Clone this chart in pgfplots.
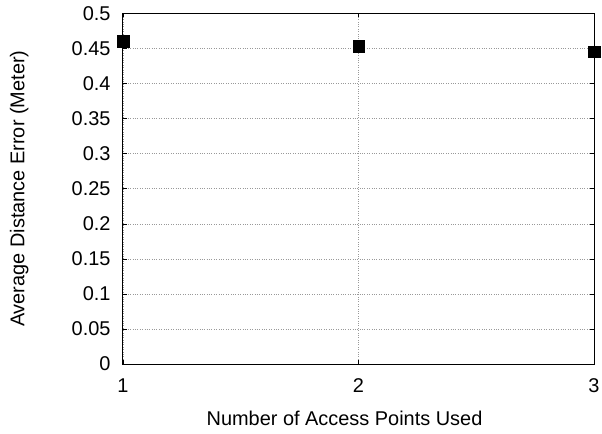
\documentclass[border=0pt]{standalone}
\usepackage{pgfplots}
\pgfplotsset{compat=1.18}
\usepackage{fontspec}
\setmainfont{Liberation Sans}
\begin{document}
\begin{tikzpicture}
\begin{axis}[
  scale only axis,
  width=471bp, height=350.5bp,
  xmin=1, xmax=3, ymin=0, ymax=0.5,
  xtick={1,2,3},
  ytick={0,0.05,0.1,0.15,0.2,0.25,0.3,0.35,0.4,0.45,0.5},
  /pgf/number format/assume math mode=true,
  /pgf/number format/fixed,
  /pgf/number format/precision=2,
  tick label style={font=\fontsize{20}{24}\selectfont},
  label style={font=\fontsize{20}{24}\selectfont},
  xlabel={Number of Access Points Used},
  ylabel={Average Distance Error (Meter)},
  xlabel style={at={(axis description cs:0.5,0)}, anchor=north, yshift=-44bp, xshift=-14bp},
  ylabel style={at={(axis description cs:0,0.5)}, anchor=south, yshift=91bp},
  yticklabel style={xshift=-9bp},
  xticklabel style={yshift=-11bp},
  tick align=inside,
  major tick length=4bp,
  tick style={black, line width=0.6pt},
  grid=major,
  major grid style={dotted, gray!80, line width=0.6pt},
  axis line style={black, line width=1pt},
  clip=false,
]
\addplot[only marks, mark=square*, mark size=5.8bp, black] coordinates {
  (1,0.4607) (2,0.4536) (3,0.4454)
};
\end{axis}
\pgfresetboundingbox
\path ([shift={(-123bp,-70bp)}]current axis.south west) rectangle ([shift={(479bp,364bp)}]current axis.south west);
\end{tikzpicture}
\end{document}
